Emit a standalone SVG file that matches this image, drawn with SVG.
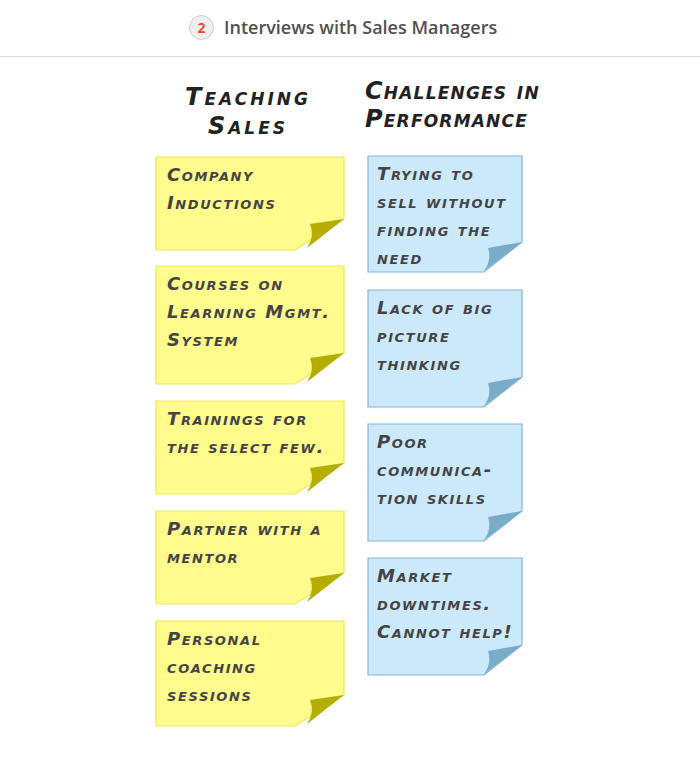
<svg xmlns="http://www.w3.org/2000/svg" width="700" height="777" viewBox="0 0 700 777">
<style>
.hdr{font-family:"Open Sans","Noto Sans",sans-serif;font-weight:600;font-size:18px;fill:#505050}
.num{font-family:"Open Sans","Noto Sans",sans-serif;font-weight:700;font-size:14px;fill:#e0502a}
.head{font-family:"DejaVu Sans",sans-serif;font-weight:bold;font-variant:small-caps;font-size:24px;fill:#222;letter-spacing:1.2px;font-style:oblique}
.wide{letter-spacing:3px}
.t{font-family:"DejaVu Sans",sans-serif;font-weight:bold;font-variant:small-caps;font-size:18px;fill:#444;letter-spacing:1.6px;font-style:oblique}
.y{fill:#fffb8c;stroke:#ede55a;stroke-width:1.2}
.yf{fill:#b5ae00}
.b{fill:#cce9fb;stroke:#84b6d3;stroke-width:1.2}
.bf{fill:#78acc7}
</style>
<rect width="700" height="777" fill="#fff"/>
<g id="header">
<line x1="0" y1="56.5" x2="700" y2="56.5" stroke="#dcdcdc"/>
<circle cx="201.5" cy="27.5" r="12" fill="#eeeeee" stroke="#cfcfcf"/>
<text class="num" x="201.5" y="32.5" text-anchor="middle">2</text>
<text class="hdr" x="224" y="34">Interviews with Sales Managers</text>
</g>
<g id="heading-left">
<text class="head wide" x="248" y="105" text-anchor="middle">Teaching</text>
<text class="head wide" x="248" y="134" text-anchor="middle">Sales</text>
</g>
<g id="heading-right">
<text class="head" x="365" y="99">Challenges in</text>
<text class="head" x="365" y="127">Performance</text>
</g>
<g id="y1">
<path class="y" d="M156,157 H344 V219 L295,250 H156 Z"/>
<path class="yf" d="M344,219 L310,224 Q315,236 307,248 Z"/>
<text class="t" x="167" y="181">Company</text>
<text class="t" x="167" y="209">Inductions</text>
</g>
<g id="y2">
<path class="y" d="M156,266 H344 V353 L295,384 H156 Z"/>
<path class="yf" d="M344,353 L310,358 Q315,370 307,382 Z"/>
<text class="t" x="167" y="290">Courses on</text>
<text class="t" x="167" y="318">Learning Mgmt.</text>
<text class="t" x="167" y="346">System</text>
</g>
<g id="y3">
<path class="y" d="M156,401 H344 V463 L295,494 H156 Z"/>
<path class="yf" d="M344,463 L310,468 Q315,480 307,492 Z"/>
<text class="t" x="167" y="425">Trainings for</text>
<text class="t" x="167" y="453">the select few.</text>
</g>
<g id="y4">
<path class="y" d="M156,511 H344 V573 L295,604 H156 Z"/>
<path class="yf" d="M344,573 L310,578 Q315,590 307,602 Z"/>
<text class="t" x="167" y="535">Partner with a</text>
<text class="t" x="167" y="563">mentor</text>
</g>
<g id="y5">
<path class="y" d="M156,621 H344 V695 L295,726 H156 Z"/>
<path class="yf" d="M344,695 L310,700 Q315,712 307,724 Z"/>
<text class="t" x="167" y="645">Personal</text>
<text class="t" x="167" y="673">coaching</text>
<text class="t" x="167" y="701">sessions</text>
</g>
<g id="b1">
<path class="b" d="M368,156 H522 V242 L484,272 H368 Z"/>
<path class="bf" d="M522,242 L488,248 Q492,260 484,271 Z"/>
<text class="t" x="377" y="180">Trying to</text>
<text class="t" x="377" y="208">sell without</text>
<text class="t" x="377" y="236">finding the</text>
<text class="t" x="377" y="264">need</text>
</g>
<g id="b2">
<path class="b" d="M368,290 H522 V377 L484,407 H368 Z"/>
<path class="bf" d="M522,377 L488,383 Q492,395 484,406 Z"/>
<text class="t" x="377" y="314">Lack of big</text>
<text class="t" x="377" y="342">picture</text>
<text class="t" x="377" y="370">thinking</text>
</g>
<g id="b3">
<path class="b" d="M368,424 H522 V511 L484,541 H368 Z"/>
<path class="bf" d="M522,511 L488,517 Q492,529 484,540 Z"/>
<text class="t" x="377" y="448">Poor</text>
<text class="t" x="377" y="476">communica-</text>
<text class="t" x="377" y="504">tion skills</text>
</g>
<g id="b4">
<path class="b" d="M368,558 H522 V645 L484,675 H368 Z"/>
<path class="bf" d="M522,645 L488,651 Q492,663 484,674 Z"/>
<text class="t" x="377" y="582">Market</text>
<text class="t" x="377" y="610">downtimes.</text>
<text class="t" x="377" y="638">Cannot help!</text>
</g>
</svg>
